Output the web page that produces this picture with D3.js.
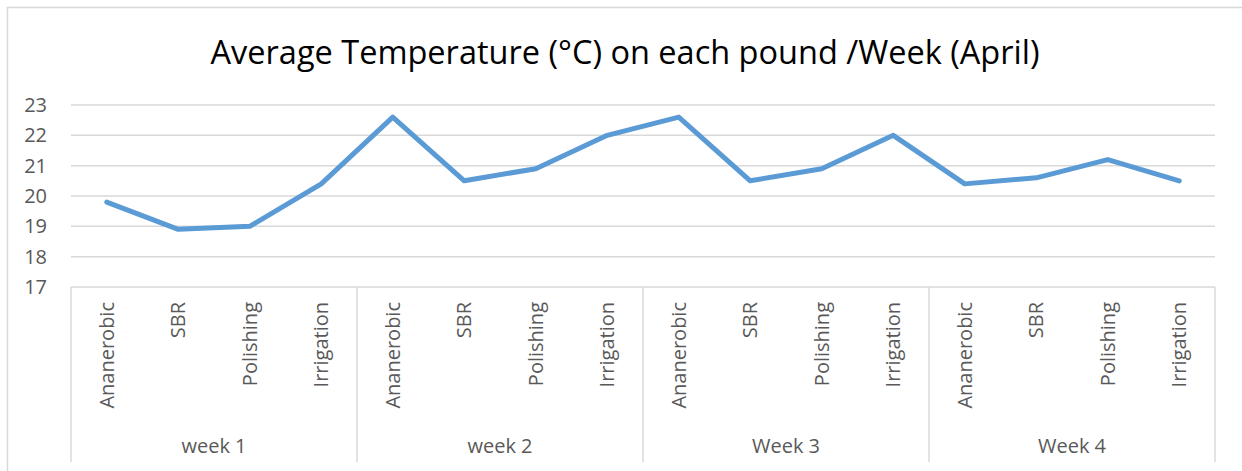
<!DOCTYPE html>
<html>
<head>
<meta charset="utf-8">
<script src="https://cdn.jsdelivr.net/npm/d3@7"></script>
<style>
  body { margin: 0; background: #fff; }
  svg { display: block; font-family: "Open Sans", sans-serif; }
</style>
</head>
<body>
<div id="canvas"></div>
<script>
const weeks = ["week 1", "week 2", "Week 3", "Week 4"];
const ponds = ["Ananerobic", "SBR", "Polishing", "Irrigation"];
const temps = [19.8, 18.9, 19.0, 20.4, 22.6, 20.5, 20.9, 22.0, 22.6, 20.5, 20.9, 22.0, 20.4, 20.6, 21.2, 20.5];
const yTicks = [17, 18, 19, 20, 21, 22, 23];

const w = 1242, h = 471;
const margin = { top: 105, left: 71, right: 27, bottom: 184 };
const width = w - margin.left - margin.right;
const height = h - margin.top - margin.bottom;
const axisFont = 20;

const svg = d3.select("#canvas").append("svg")
  .attr("width", w).attr("height", h);

// outer chart border (left + top only visible)
svg.append("path")
  .attr("d", "M7.5," + h + "V7.5H" + w)
  .attr("fill", "none").attr("stroke", "#d9d9d9").attr("stroke-width", 1.5);

svg.append("text")
  .attr("x", 625).attr("y", 64)
  .attr("text-anchor", "middle")
  .attr("font-size", 32.5)
  .attr("fill", "#000")
  .text("Average Temperature (°C) on each pound /Week (April)");

const chart = svg.append("g")
  .attr("transform", "translate(" + margin.left + "," + margin.top + ")");

// one category per (week, pond)
const cats = [];
weeks.forEach(function(wk, i) {
  ponds.forEach(function(p, j) { cats.push({ week: wk, pond: p, key: i + "-" + j }); });
});

const x = d3.scaleBand().domain(cats.map(d => d.key)).range([0, width]);
const xWeek = d3.scaleBand().domain(weeks).range([0, width]);
const y = d3.scaleLinear().domain([17, 23]).range([height, 0]);

// gridlines
chart.append("g")
  .selectAll("line")
  .data(yTicks.slice(1))
  .enter().append("line")
  .attr("x1", 0).attr("x2", width)
  .attr("y1", d => y(d)).attr("y2", d => y(d))
  .attr("stroke", "#d9d9d9").attr("stroke-width", 1.5);

// y labels
chart.append("g")
  .selectAll("text")
  .data(yTicks)
  .enter().append("text")
  .attr("x", -24).attr("y", d => y(d) + 7)
  .attr("text-anchor", "end")
  .attr("font-size", axisFont)
  .attr("fill", "#595959")
  .text(d => d);

// category axis box
const axisG = chart.append("g").attr("transform", "translate(0," + height + ")");
axisG.append("line")
  .attr("x1", 0).attr("x2", width).attr("y1", 0).attr("y2", 0)
  .attr("stroke", "#d9d9d9").attr("stroke-width", 1.5);
axisG.selectAll(".sep")
  .data(weeks.map(d => xWeek(d)).concat([width]))
  .enter().append("line")
  .attr("x1", d => d).attr("x2", d => d)
  .attr("y1", 0).attr("y2", 175)
  .attr("stroke", "#d9d9d9").attr("stroke-width", 1.5);

axisG.selectAll(".cat")
  .data(cats)
  .enter().append("text")
  .attr("transform", d => "translate(" + (x(d.key) + x.bandwidth() / 2 + 7) + ",15) rotate(-90)")
  .attr("text-anchor", "end")
  .attr("font-size", axisFont)
  .attr("fill", "#595959")
  .text(d => d.pond);

axisG.selectAll(".wk")
  .data(weeks)
  .enter().append("text")
  .attr("x", d => xWeek(d) + xWeek.bandwidth() / 2)
  .attr("y", 166)
  .attr("text-anchor", "middle")
  .attr("font-size", axisFont)
  .attr("fill", "#595959")
  .text(d => d);

// the line
const line = d3.line()
  .x((d, i) => x(cats[i].key) + x.bandwidth() / 2)
  .y(d => y(d));

chart.append("path")
  .datum(temps)
  .attr("d", line)
  .attr("fill", "none")
  .attr("stroke", "#5b9bd5")
  .attr("stroke-width", 5)
  .attr("stroke-linejoin", "round")
  .attr("stroke-linecap", "round");
</script>
</body>
</html>
